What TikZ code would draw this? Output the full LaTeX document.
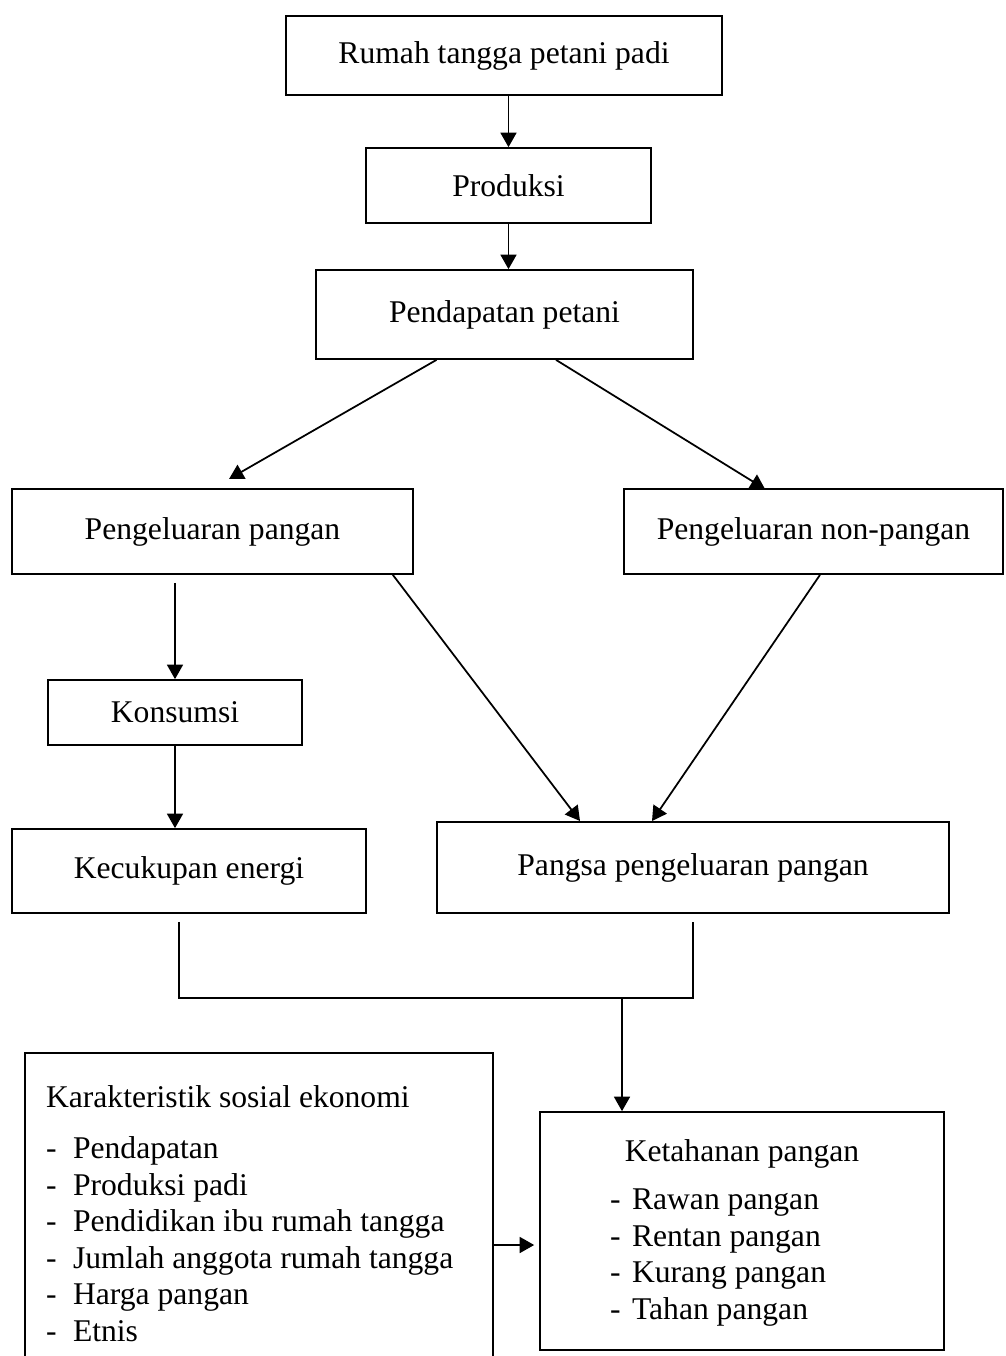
\documentclass[tikz,border=0pt]{standalone}
\usepackage{fontspec}
\setmainfont{Liberation Serif}
\usetikzlibrary{arrows.meta}

\begin{document}
\begin{tikzpicture}
  [x=.02cm,y=-.02cm,line width=1pt,
   every node/.style={font=\fontsize{18}{20.8}\selectfont,inner sep=0pt},
   box/.style={draw,rectangle},
   arr/.style={-{Triangle[length=.29cm,width=.32cm]}}]
  \useasboundingbox (0,0) rectangle (1005,1356);

  \node[box,minimum width=8.72cm,minimum height=1.58cm] (n1) at (504,55.5) {Rumah tangga petani padi};
  \node[box,minimum width=5.7cm,minimum height=1.5cm] (n2) at (508.5,185.5) {Produksi};
  \node[box,minimum width=7.54cm,minimum height=1.78cm] (n3) at (504.5,314.5) {Pendapatan petani};
  \node[box,minimum width=8.02cm,minimum height=1.7cm] (n4) at (212.5,531.5) {Pengeluaran pangan};
  \node[box,minimum width=7.58cm,minimum height=1.7cm] (n5) at (813.5,531.5) {Pengeluaran non-pangan};
  \node[box,minimum width=5.08cm,minimum height=1.3cm] (n6) at (175,712.5) {Konsumsi};
  \node[box,minimum width=7.08cm,minimum height=1.68cm] (n7) at (189,871) {Kecukupan energi};
  \node[box,minimum width=10.24cm,minimum height=1.82cm] (n8) at (693,867.5) {Pangsa pengeluaran pangan};
  \node[box,minimum width=9.36cm,minimum height=6.34cm] (n9) at (259,1211.5) {};
  \node[box,minimum width=8.08cm,minimum height=4.76cm] (n10) at (742,1231) {};

  \node[anchor=north west,align=left] (l9) at ([xshift=.42cm,yshift=-.66cm]n9.north west)
    {Karakteristik sosial ekonomi\\[8pt]
     \makebox[.54cm][l]{-}Pendapatan\\
     \makebox[.54cm][l]{-}Produksi padi\\
     \makebox[.54cm][l]{-}Pendidikan ibu rumah tangga\\
     \makebox[.54cm][l]{-}Jumlah anggota rumah tangga\\
     \makebox[.54cm][l]{-}Harga pangan\\
     \makebox[.54cm][l]{-}Etnis};
  \node[anchor=base] (h10) at ([yshift=-1cm]n10.north) {Ketahanan pangan};
  \node[anchor=north west,align=left] (l10) at ([xshift=1.4cm,yshift=-1.54cm]n10.north west)
    {\makebox[.44cm][l]{-}Rawan pangan\\
     \makebox[.44cm][l]{-}Rentan pangan\\
     \makebox[.44cm][l]{-}Kurang pangan\\
     \makebox[.44cm][l]{-}Tahan pangan};

  \coordinate (t4) at (229,479);
  \coordinate (t5) at (765,489);
  \coordinate (t8a) at (580,821);
  \coordinate (t8b) at (652,821);
  \coordinate (jl) at ([xshift=-.2cm,yshift=-.16cm]n7.south);
  \coordinate (jr) at ([yshift=-.16cm]n8.south);
  \coordinate (jn) at (622,997);

  \draw[arr] (n1.south -| n2.north) -- (n2.north);
  \draw[arr] (n2.south) -- (n2.south |- n3.north);
  \draw[arr] ([xshift=-1.36cm]n3.south) -- (t4);
  \draw[arr] ([xshift=1.03cm]n3.south) -- (t5);
  \draw[arr,shorten <=.16cm] (n4.south -| n6.north) -- (n6.north);
  \draw[arr] (n6.south) -- (n6.south |- n7.north);
  \draw[arr] ([xshift=-.42cm]n4.south east) -- (t8a);
  \draw[arr] ([xshift=.13cm]n5.south) -- (t8b);

  \draw (jl) -- ++(0,76) -| (jr);
  \draw[arr] (jn) -- (jn |- n10.north);
  \draw[arr,shorten >=.1cm] ([yshift=-.28cm]n10.west -| n9.east) -- ([yshift=-.28cm]n10.west);
\end{tikzpicture}
\end{document}
